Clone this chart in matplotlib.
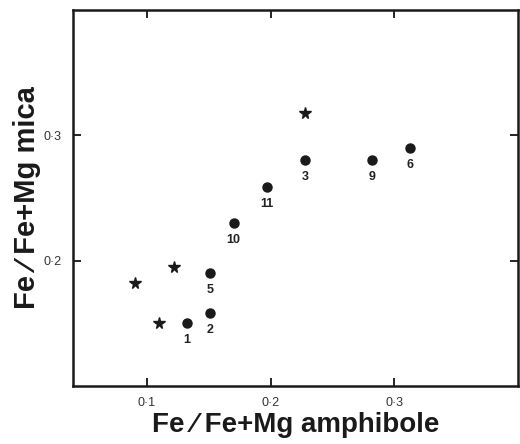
import matplotlib
matplotlib.use("Agg")
import matplotlib.pyplot as plt

plt.rcParams['font.family'] = ['Liberation Sans', 'DejaVu Sans']

# stars (unnumbered samples)
star_x = [0.228, 0.090, 0.122, 0.110]
star_y = [0.318, 0.182, 0.195, 0.150]

# numbered samples
dot_x = [0.132, 0.151, 0.151, 0.170, 0.197, 0.228, 0.282, 0.313]
dot_y = [0.150, 0.158, 0.190, 0.230, 0.259, 0.280, 0.280, 0.290]
dot_lab = ['1', '2', '5', '10', '11', '3', '9', '6']

xticks = [0.1, 0.2, 0.3]
yticks = [0.2, 0.3]
xtick_lab = ['0·1', '0·2', '0·3']
ytick_lab = ['0·2', '0·3']

fig = plt.figure(figsize=(5.2, 4.44), dpi=100)
ax = fig.add_axes([0.140, 0.1306, 0.856, 0.847])

ax.plot(star_x, star_y, '*', color='#1a1a1a', markersize=8.5, linestyle='none')
ax.plot(dot_x, dot_y, 'o', color='#1a1a1a', markersize=6.5, linestyle='none')
for x, y, t in zip(dot_x, dot_y, dot_lab):
    ax.annotate(t, (x, y), xytext=(0, -8), textcoords='offset points',
                ha='center', va='top', fontsize=9, fontweight='bold', color='#222222')

ax.set_xlim(0.04, 0.4)
ax.set_ylim(0.1, 0.4)
ax.set_xticks(xticks)
ax.set_xticklabels(xtick_lab, fontsize=9, color='#333333')
ax.set_yticks(yticks)
ax.set_yticklabels(ytick_lab, fontsize=9, color='#333333')
ax.tick_params(direction='in', length=6, width=1.2, top=True, right=True, pad=8)

for sp in ax.spines.values():
    sp.set_linewidth(1.8)
    sp.set_color('#1a1a1a')

ax.set_xlabel('Fe ⁄ Fe+Mg amphibole', fontsize=20, fontweight='bold', color='#1a1a1a', labelpad=2)
ax.set_ylabel('Fe ⁄ Fe+Mg mica', fontsize=21, fontweight='bold', color='#1a1a1a', labelpad=2)

fig.savefig('out.png', dpi=100)
